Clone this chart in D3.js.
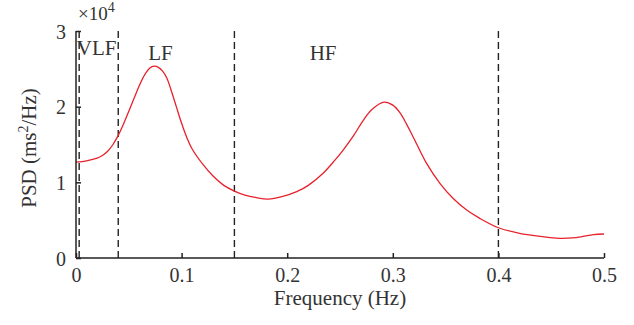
<!DOCTYPE html>
<html>
<head>
<meta charset="utf-8">
<script src="https://cdn.jsdelivr.net/npm/d3@7"></script>
<style>
  body { margin: 0; background: #fff; }
  text { font-family: "Liberation Serif", "DejaVu Serif", serif; fill: #333; }
</style>
</head>
<body>
<div id="container"></div>
<script>
const width = 634;
const height = 325;
const margin = { top: 31, bottom: 67, left: 76, right: 30 };

// PSD values are in units of 1e4 ms^2/Hz
const freqs = [0, 0.01, 0.02, 0.025, 0.03, 0.035, 0.04, 0.045, 0.05, 0.055, 0.06, 0.065,
    0.07, 0.074, 0.078, 0.082, 0.086, 0.09, 0.095, 0.1, 0.105, 0.11, 0.12, 0.13, 0.14,
    0.15, 0.16, 0.17, 0.182, 0.195, 0.209, 0.22, 0.234, 0.245, 0.253, 0.263, 0.272,
    0.28, 0.2916, 0.3, 0.3067, 0.313, 0.3193, 0.332, 0.3446, 0.357, 0.37, 0.3824,
    0.4, 0.42, 0.44, 0.458, 0.47, 0.48, 0.49, 0.5];
const psd = [1.268, 1.285, 1.32, 1.355, 1.41, 1.50, 1.62, 1.77, 1.94, 2.11, 2.28, 2.42,
    2.51, 2.535, 2.52, 2.47, 2.38, 2.22, 2.0, 1.78, 1.59, 1.44, 1.24, 1.08, 0.96,
    0.885, 0.832, 0.80, 0.779, 0.81, 0.876, 0.96, 1.12, 1.29, 1.427, 1.62, 1.82,
    1.96, 2.06, 2.02, 1.92, 1.77, 1.60, 1.25, 0.987, 0.79, 0.634, 0.524,
    0.40, 0.326, 0.285, 0.26, 0.265, 0.285, 0.31, 0.317];
const bandEdges = [0.003, 0.04, 0.15, 0.4];
const bandNames = ["VLF", "LF", "HF"];
const bandLabelX = [0.0195, 0.080, 0.234];
const xTicks = [0, 0.1, 0.2, 0.3, 0.4, 0.5];
const yTicks = [0, 1, 2, 3];

const svg = d3.select("#container")
    .append('svg')
    .attr('width', width)
    .attr('height', height)
    .attr('viewBox', [0, 0, width, height]);

const x = d3.scaleLinear()
    .domain([0, 0.5])
    .range([margin.left, width - margin.right]);

const y = d3.scaleLinear()
    .domain([0, 3])
    .range([height - margin.bottom, margin.top]);

// dashed band edges
svg.append('g')
    .selectAll('line')
    .data(bandEdges)
    .join('line')
    .attr('x1', d => x(d))
    .attr('x2', d => x(d))
    .attr('y1', y(3))
    .attr('y2', y(0))
    .attr('stroke', '#222')
    .attr('stroke-width', 1.4)
    .attr('stroke-dasharray', '7,4');

// the spectrum
svg.append('path')
    .datum(freqs.map((f, i) => [f, psd[i]]))
    .attr('fill', 'none')
    .attr('stroke', '#e8212b')
    .attr('stroke-width', 1.3)
    .attr('d', d3.line()
        .x(d => x(d[0]))
        .y(d => y(d[1]))
        .curve(d3.curveCatmullRom.alpha(0.5)));

// axes, ticks pointing inward
const xAxis = svg.append('g')
    .attr('transform', `translate(0,${y(0)})`)
    .call(d3.axisTop(x)
        .tickValues(xTicks)
        .tickSize(5)
        .tickFormat(d => d === 0 ? "0" : d3.format(".1f")(d)));
xAxis.select('.domain').attr('d', `M${x(0)},0H${x(0.5)}`);
xAxis.selectAll('text')
    .attr('y', 24)
    .attr('dy', 0)
    .attr('font-size', 20);

const yAxis = svg.append('g')
    .attr('transform', `translate(${x(0)},0)`)
    .call(d3.axisRight(y)
        .tickValues(yTicks)
        .tickSize(5)
        .tickFormat(d3.format("d")));
yAxis.select('.domain').attr('d', `M0,${y(3)}V${y(0)}`);
yAxis.selectAll('text')
    .attr('x', -10)
    .attr('text-anchor', 'end')
    .attr('dy', '0.35em')
    .attr('font-size', 20);

svg.selectAll('.domain, .tick line')
    .attr('stroke', '#222')
    .attr('stroke-width', 1.5);
svg.selectAll('.tick text').attr('fill', '#333').attr('font-family', '"Liberation Serif", serif');

// band names
svg.append('g')
    .selectAll('text')
    .data(bandNames)
    .join('text')
    .attr('x', (d, i) => x(bandLabelX[i]))
    .attr('y', (d, i) => i === 0 ? 55 : 60)
    .attr('text-anchor', 'middle')
    .attr('font-size', 21)
    .text(d => d);

// exponent note
const expo = svg.append('text')
    .attr('x', 78)
    .attr('y', 20)
    .attr('font-size', 19);
expo.append('tspan').text('×10');
expo.append('tspan').attr('dy', -8).attr('font-size', 14).text('4');

// axis titles
svg.append('text')
    .attr('x', x(0.25))
    .attr('y', 305)
    .attr('text-anchor', 'middle')
    .attr('font-size', 21)
    .text('Frequency (Hz)');

const yTitle = svg.append('text')
    .attr('transform', `translate(36,148) rotate(-90)`)
    .attr('text-anchor', 'middle')
    .attr('font-size', 21);
yTitle.append('tspan').text('PSD (ms');
yTitle.append('tspan').attr('dy', -8).attr('font-size', 14).text('2');
yTitle.append('tspan').attr('dy', 8).text('/Hz)');
</script>
</body>
</html>
